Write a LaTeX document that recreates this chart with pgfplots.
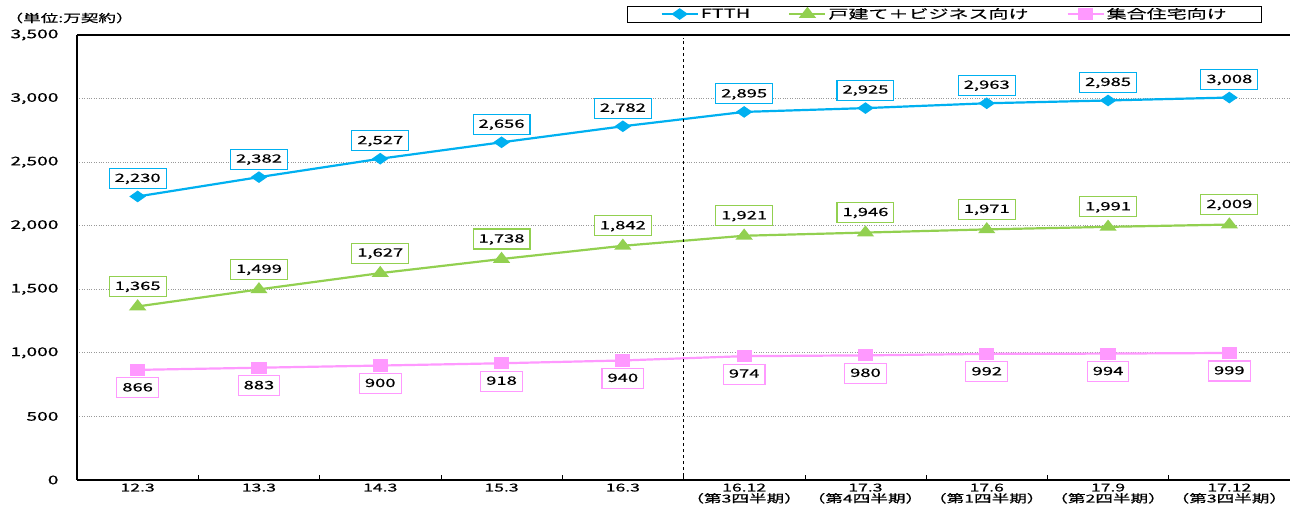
\documentclass[border=0pt]{standalone}
\usepackage{fontspec}
\setmainfont{Noto Sans CJK JP}[FakeStretch=1.6, FakeBold=0.5]
\usepackage{pgfplots}
\pgfplotsset{compat=1.18}
\definecolor{ftth}{RGB}{0,176,240}
\definecolor{kodate}{RGB}{146,208,80}
\definecolor{shugo}{RGB}{255,153,255}
\newcommand\qtr[1]{\\[-1pt]{\fontsize{11}{12}\selectfont （第#1四半期）}}

\pgfplotsset{
  /pgf/number format/.cd, 1000 sep={,}, assume math mode=true,
  /pgfplots/.cd,
  datalabel/.style={
    nodes near coords,
    every node near coord/.append style={
      draw=#1, line width=1.1pt, fill=white, text=black,
      font=\fontsize{11.5}{13}\selectfont,
      text height=9pt, text depth=2pt,
      inner xsep=5.5pt, inner ysep=4.5pt, anchor=center}},
}

\begin{document}
\begin{tikzpicture}
\begin{axis}[
  name=ax,
  width=1213pt, height=445pt, scale only axis,
  xmin=-0.5, xmax=9.5, ymin=0, ymax=3500,
  axis x line*=bottom, axis y line*=left,
  axis line style={line width=1.6pt, -},
  ytick={0,500,...,3500},
  xtick={0,...,9},
  xticklabels={12.3,13.3,14.3,15.3,16.3,
    {16.12\qtr{3}},{17.3\qtr{4}},{17.6\qtr{1}},{17.9\qtr{2}},{17.12\qtr{3}}},
  minor xtick={0.5,1.5,...,8.5},
  major tick length=0pt, minor tick length=5pt, tick align=inside,
  minor tick style={black, line width=0.6pt},
  yticklabel style={font=\fontsize{12}{13}\selectfont, xshift=-15pt},
  xticklabel style={font=\fontsize{11}{12}\selectfont, align=center},
  ymajorgrids,
  major grid style={gray!80, dotted, line width=0.8pt},
  legend columns=3,
  legend style={at={(0.977,1.066)}, anchor=north east, draw=black,
    line width=0.8pt, font=\fontsize{12.5}{13}\selectfont,
    inner xsep=33pt, inner ysep=1.5pt,
    nodes={inner xsep=2pt, inner ysep=0.5pt},
    /tikz/every even column/.append style={column sep=36pt}},
  legend image code/.code={
    \draw[mark repeat=2, mark phase=2, #1] plot coordinates {(0pt,0pt) (18pt,0pt) (36pt,0pt)};},
]
\addplot[ftth, line width=2.2pt, mark=diamond*, mark size=4.5pt,
  mark options={xscale=1.9}, datalabel=ftth,
  every node near coord/.append style={yshift=18pt}]
  coordinates {(0,2230) (1,2382) (2,2527) (3,2656) (4,2782)
               (5,2895) (6,2925) (7,2963) (8,2985) (9,3008)};
\addlegendentry{FTTH}
\addplot[kodate, line width=2.2pt, mark=triangle*, mark size=5.5pt,
  mark options={xscale=1.35}, datalabel=kodate,
  every node near coord/.append style={yshift=20pt}]
  coordinates {(0,1365) (1,1499) (2,1627) (3,1738) (4,1842)
               (5,1921) (6,1946) (7,1971) (8,1991) (9,2009)};
\addlegendentry{戸建て＋ビジネス向け}
\addplot[shugo, line width=2.2pt, mark=square*, mark size=5pt,
  mark options={xscale=1.3}, datalabel=shugo,
  every node near coord/.append style={yshift=-18pt}]
  coordinates {(0,866) (1,883) (2,900) (3,918) (4,940)
               (5,974) (6,980) (7,992) (8,994) (9,999)};
\addlegendentry{集合住宅向け}
\draw[black, line width=0.8pt, dashed] (axis cs:4.5,30) -- (axis cs:4.5,3480);
\draw[black, line width=1.6pt] (rel axis cs:0,1) -- (rel axis cs:1,1);
\end{axis}
\node[anchor=west, font=\fontsize{11}{12}\selectfont] at ([xshift=-75pt, yshift=17pt]ax.north west) {（単位:万契約）};
\pgfresetboundingbox
\path[use as bounding box] ([xshift=-77pt, yshift=-40pt]ax.south west) rectangle ([yshift=35pt]ax.north east);
\end{tikzpicture}
\end{document}
